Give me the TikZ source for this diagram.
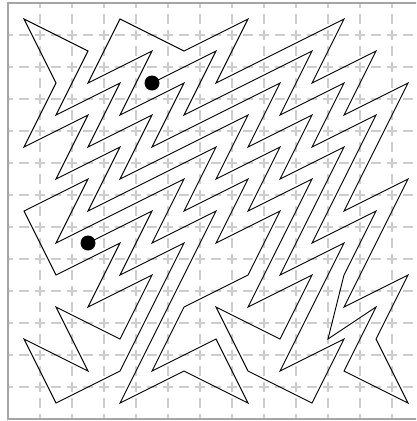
\documentclass[tikz,border=0pt]{standalone}
\begin{document}
\begin{tikzpicture}[x=1pt,y=-1pt]
\tikzset{
  gridline/.style={draw={rgb,255:red,205;green,205;blue,205}, line width=1.2pt, dash pattern=on 10pt off 6pt, dash phase=5pt},
  framebox/.style={draw={rgb,255:red,165;green,165;blue,165}, line width=1.2pt},
  mazeline/.style={draw=black, line width=0.9pt, line join=miter},
  enddot/.style={fill=black}
}
\useasboundingbox (0,0) rectangle (416,421);
\begin{scope}
\clip (0,0) rectangle (416,421);
\foreach \i in {1,...,12} {
  \draw[gridline] ({8+32*\i},3) -- ({8+32*\i},419);
  \draw[gridline] (8,{3+32*\i}) -- (424,{3+32*\i});
}
\draw[framebox] (8,3) rectangle (424,419);
\end{scope}
\begin{scope}[shift={(24pt,-19pt)}, x=32pt, y=-32pt]
\draw[mazeline] (4,2) -- (6,1) -- (5,3) -- (9,1) -- (8,3) -- (10,2) -- (9,4) -- (11,3) -- (9,7) -- (11,6) -- (10,8) -- (9.5,10) -- (11,9) -- (10,11) -- (12,12) -- (11,10) -- (12,8) -- (10,9) -- (12,5) -- (10,6) -- (12,2) -- (10,3) -- (11,1) -- (9,2) -- (10,0) -- (6,2) -- (7,0) -- (5,1) -- (3,0) -- (2,2) -- (4,1) -- (3,3) -- (5,2) -- (4,4) -- (8,2) -- (7,4) -- (9,3) -- (8,5) -- (10,4) -- (8,8) -- (10,7) -- (8,11) -- (10,10) -- (9,12) -- (7,11) -- (6,9) -- (8,10) -- (9,8) -- (7,9) -- (9,5) -- (7,6) -- (8,4) -- (6,5) -- (7,3) -- (3,5) -- (4,3) -- (2,4) -- (3,2) -- (1,3) -- (2,1) -- (0,0) -- (1,2) -- (0,4) -- (2,3) -- (1,5) -- (3,4) -- (2,6) -- (6,4) -- (5,6) -- (7,5) -- (6,7) -- (8,6) -- (7,8) -- (5,9) -- (4,11) -- (6,10) -- (7,12) -- (5,11) -- (3,12) -- (6,6) -- (4,7) -- (5,5) -- (1,7) -- (2,5) -- (0,6) -- (1,8) -- (3,7) -- (2,9) -- (4,8) -- (3,10) -- (1,9) -- (2,11) -- (0,10) -- (1,12) -- (3,11) -- (5,7) -- (3,8) -- (4,6) -- (2,7);
\fill[enddot] (4,2) circle (7.5pt);
\fill[enddot] (2,7) circle (7.5pt);
\end{scope}
\end{tikzpicture}
\end{document}
